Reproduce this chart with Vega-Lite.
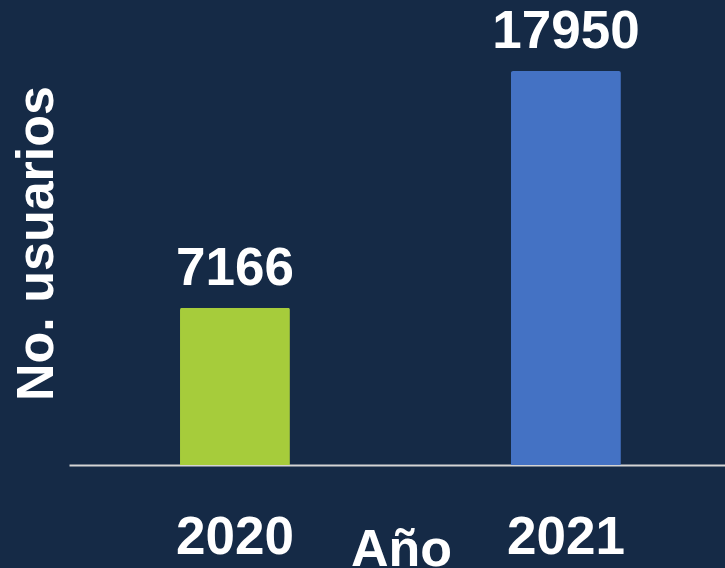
{
  "$schema": "https://vega.github.io/schema/vega-lite/v6.json",
  "width": 656,
  "height": 465,
  "autosize": {"type": "none"},
  "padding": {"left": 69, "top": 0, "right": 0, "bottom": 103},
  "background": "#152a46",
  "config": {"view": {"stroke": null}, "font": "Liberation Sans"},
  "data": {"values": [
    {"anio": "2020", "usuarios": 7166, "color": "#a6cc3b"},
    {"anio": "2021", "usuarios": 17950, "color": "#4472c4"}
  ]},
  "encoding": {
    "x": {
      "field": "anio", "type": "nominal", "sort": null,
      "scale": {"paddingInner": 0.668, "paddingOuter": 0.325, "align": 0.516},
      "axis": {
        "title": "Año", "labelAngle": 0, "ticks": false, "tickSize": 0,
        "domainColor": "#d4d4d4", "domainWidth": 2,
        "labelFont": "Liberation Sans", "labelFontSize": 53, "labelFontWeight": "bold",
        "labelColor": "#ffffff", "labelBaseline": "alphabetic", "labelPadding": 88,
        "titleFont": "Liberation Sans", "titleFontSize": 52, "titleFontWeight": "bold",
        "titleColor": "#ffffff", "titleBaseline": "alphabetic", "titleAlign": "center",
        "titleX": 332, "titleY": 100
      }
    },
    "y": {
      "field": "usuarios", "type": "quantitative",
      "scale": {"domain": [0, 21185], "nice": false},
      "axis": {
        "title": "No. usuarios", "labels": false, "ticks": false, "domain": false, "grid": false,
        "titleFont": "Liberation Sans", "titleFontSize": 52, "titleFontWeight": "bold",
        "titleColor": "#ffffff", "titleAngle": 270, "titleBaseline": "alphabetic",
        "titleAlign": "center", "titleX": -17, "titleY": 243
      }
    }
  },
  "layer": [
    {
      "mark": {"type": "bar", "cornerRadiusTopLeft": 2, "cornerRadiusTopRight": 2},
      "encoding": {"color": {"field": "color", "type": "nominal", "scale": null}}
    },
    {
      "mark": {"type": "text", "dy": -23, "baseline": "alphabetic", "font": "Liberation Sans",
               "fontSize": 53, "fontWeight": "bold", "color": "#ffffff"},
      "encoding": {"text": {"field": "usuarios", "type": "quantitative", "format": "d"}}
    }
  ]
}
